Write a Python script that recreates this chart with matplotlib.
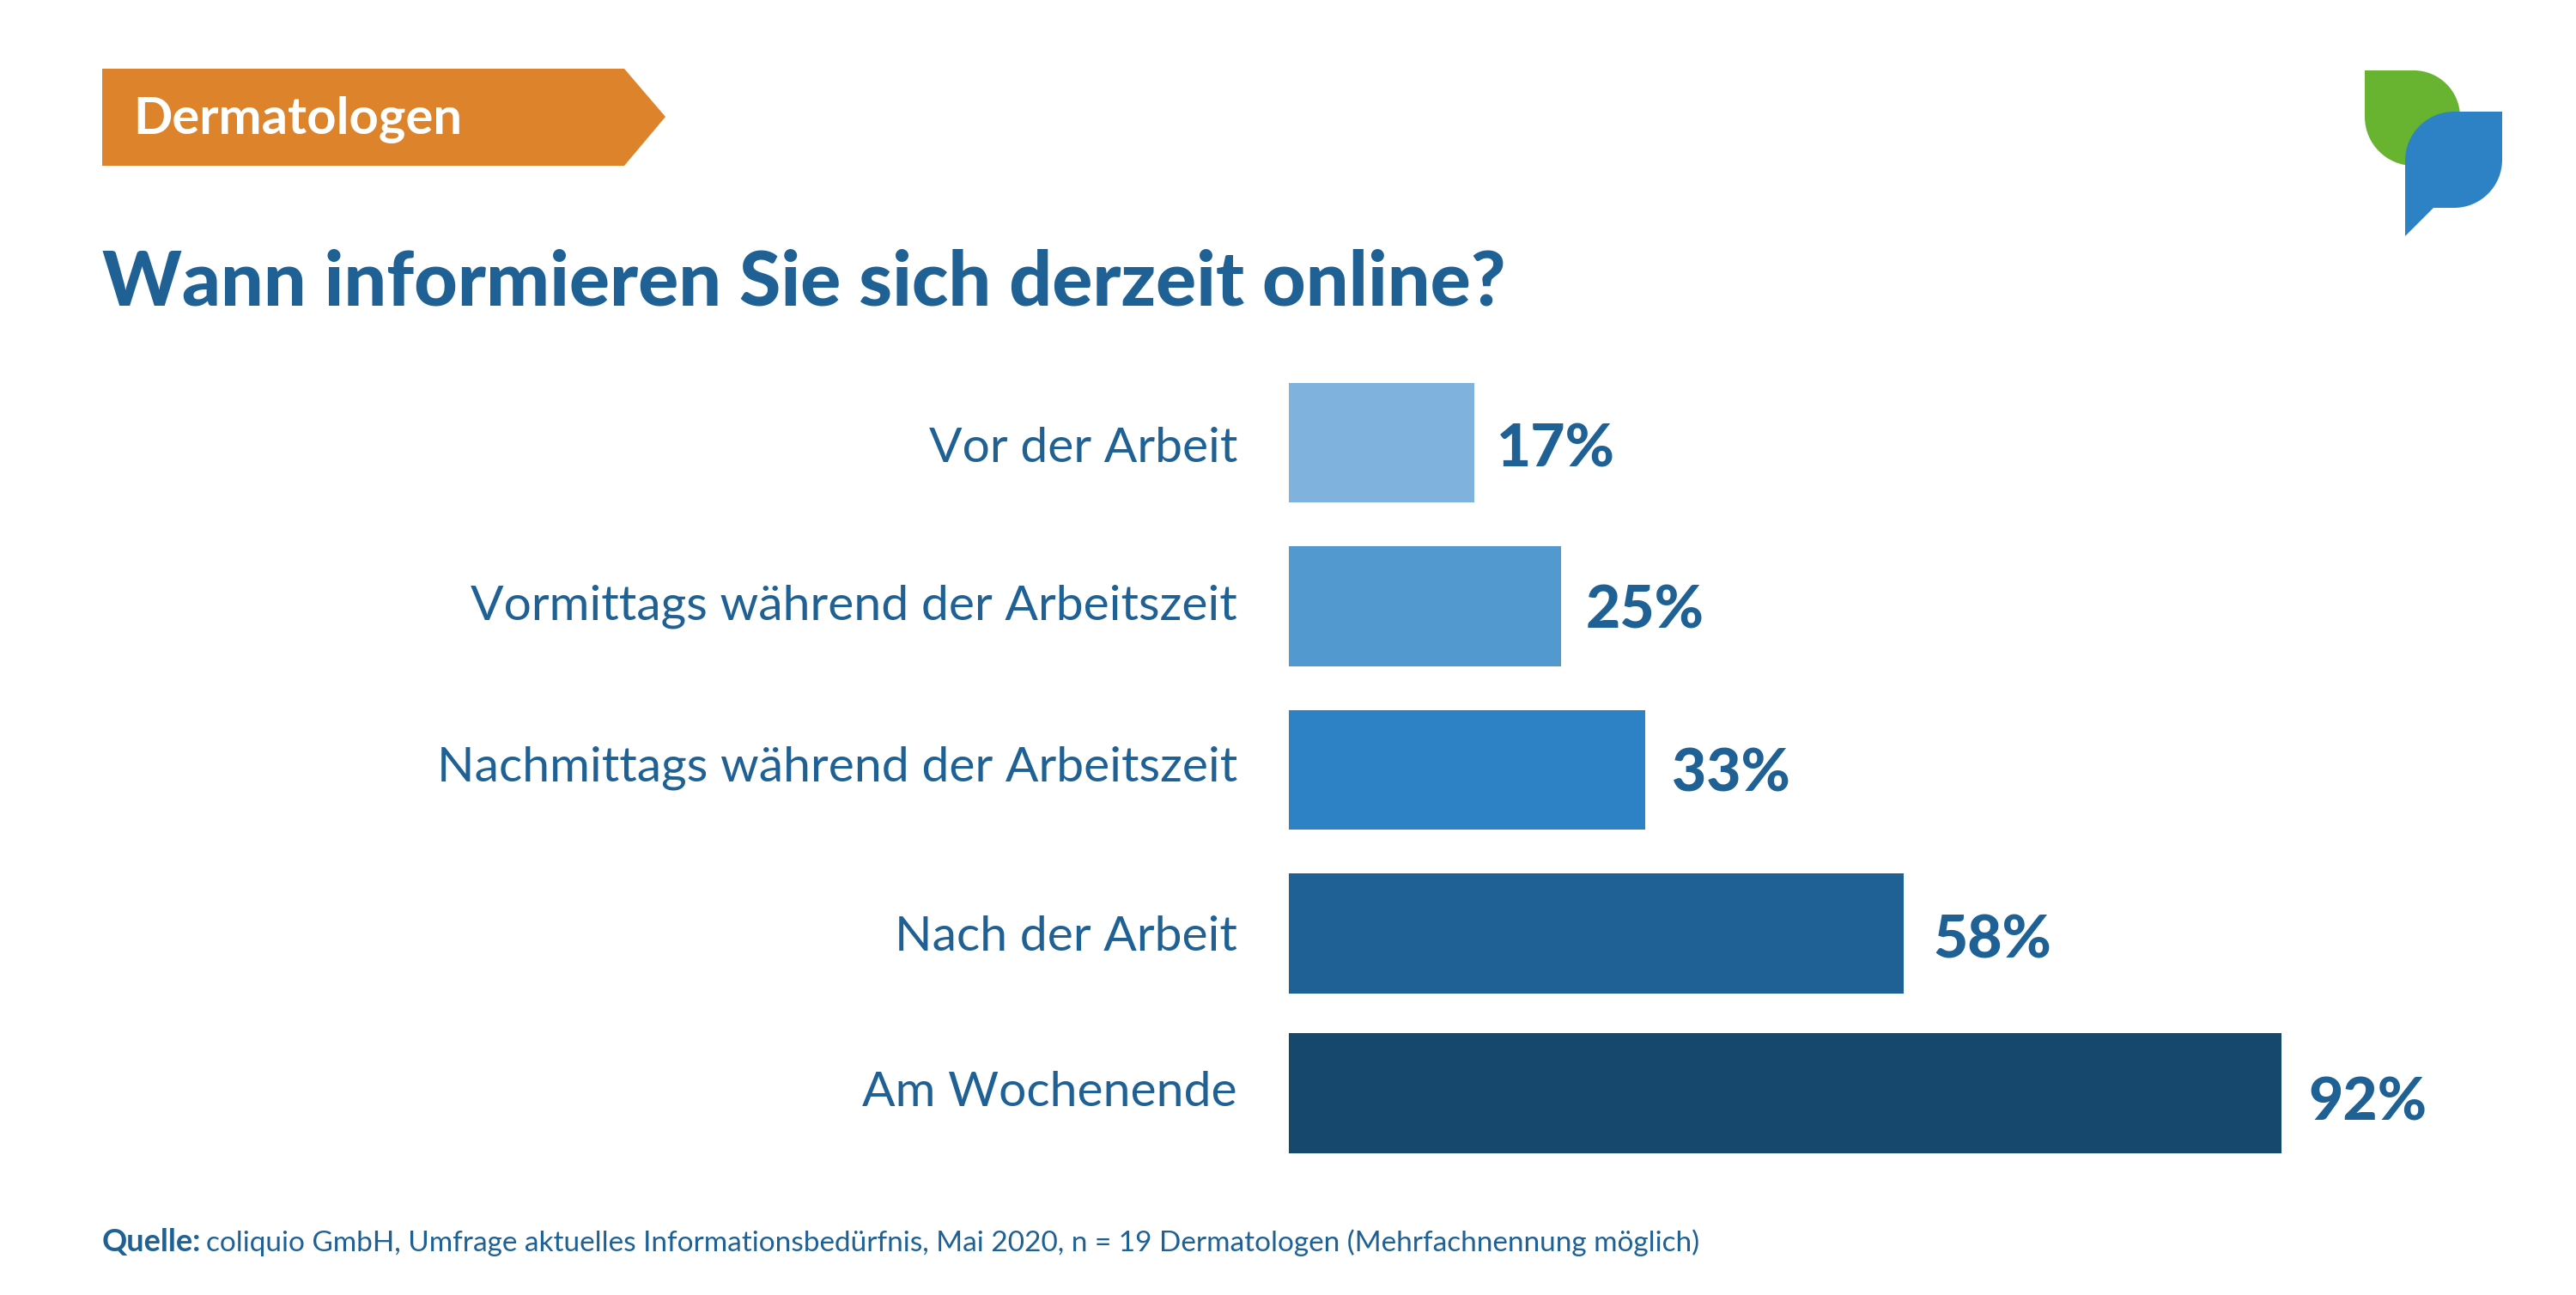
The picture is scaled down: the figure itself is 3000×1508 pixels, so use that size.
import matplotlib
matplotlib.use("Agg")
import matplotlib.pyplot as plt
from matplotlib.patches import Polygon, PathPatch
from matplotlib.path import Path

categories = ["Vor der Arbeit", "Vormittags während der Arbeitszeit",
              "Nachmittags während der Arbeitszeit", "Nach der Arbeit", "Am Wochenende"]
bar_lengths = [17.2, 25.2, 33, 57, 92]
value_labels = ["17%", "25%", "33%", "58%", "92%"]
bar_colors = ["#7FB3DD", "#5299D0", "#2C82C5", "#1F6194", "#16486E"]
badge_text = "Dermatologen"
title_text = "Wann informieren Sie sich derzeit online?"
source_bold = "Quelle:"
source_text = "coliquio GmbH, Umfrage aktuelles Informationsbedürfnis, Mai 2020, n = 19 Dermatologen (Mehrfachnennung möglich)"

W, H = 3000, 1508
TEXT = "#1F6194"
FONT = "Lato"
plt.rcParams["font.family"] = [FONT, "DejaVu Sans"]

fig = plt.figure(figsize=(W / 100, H / 100), dpi=100, facecolor="white")

# overlay in pixel coordinates for page furniture
page = fig.add_axes([0, 0, 1, 1])
page.set_xlim(0, W)
page.set_ylim(H, 0)
page.axis("off")

# chart axes
left, right, top, bottom = 1501, 2657, 400, 1400
ax = fig.add_axes([left / W, 1 - bottom / H, (right - left) / W, (bottom - top) / H])
ax.patch.set_alpha(0)
ax.set_xlim(0, 92)
first, step = 515.5, 190.5
ax.set_ylim((bottom - first) / step, (top - first) / step)
ax.axis("off")

y_slots = [0, 1, 2, 3, 3.976]
ax.barh(y_slots, bar_lengths, height=0.732, color=bar_colors, linewidth=0)

label_dy = [-23, -15.5, -13, -20, -15]     # baseline shift, px
value_dx = [26, 29, 31, 34, 31]
value_dy = [-28, -25, -25, -29, -32]
for y, cat, val, lab, ldy, dx, vdy in zip(y_slots, categories, bar_lengths, value_labels,
                                          label_dy, value_dx, value_dy):
    ax.annotate(cat, xy=(0, y), xytext=(-60 * 0.72, ldy * 0.72), textcoords="offset points",
                ha="right", va="baseline", fontsize=41, color=TEXT)
    ax.annotate(lab, xy=(val, y), xytext=(dx * 0.72, vdy * 0.72), textcoords="offset points",
                ha="left", va="baseline", fontsize=50, fontweight=900, color=TEXT)

# badge
page.add_patch(Polygon([(119, 80), (727, 80), (775, 136), (727, 193), (119, 193)],
                       closed=True, facecolor="#DD832B", edgecolor="none"))
page.text(155, 156, badge_text, color="white", fontsize=43, fontweight="bold", ha="left", va="baseline")

# title
page.text(119, 356, title_text, color=TEXT, fontsize=63.3, fontweight=900, ha="left", va="baseline")

# source
page.text(119, 1457, source_bold, color=TEXT, fontsize=26, fontweight="bold", ha="left", va="baseline")
page.text(240, 1457, source_text, color=TEXT, fontsize=24, ha="left", va="baseline")

# logo
C = Path.CURVE4
L = Path.LINETO
M = Path.MOVETO
k = 0.5523
g_verts = [(2754, 82), (2811, 82),
           (2811 + 54 * k, 82), (2865, 136 - 54 * k), (2865, 136),
           (2865, 193), (2811, 193),
           (2811 - 57 * k, 193), (2754, 136 + 57 * k), (2754, 136),
           (2754, 82)]
g_codes = [M, L, C, C, C, L, L, C, C, C, L]
page.add_patch(PathPatch(Path(g_verts, g_codes), facecolor="#68B32F", edgecolor="none"))
b_verts = [(2914, 130), (2914, 186),
           (2914, 186 + 56 * k), (2858 + 56 * k, 242), (2858, 242),
           (2834, 242), (2801, 275), (2801, 187),
           (2801, 187 - 57 * k), (2858 - 57 * k, 130), (2858, 130),
           (2914, 130)]
b_codes = [M, L, C, C, C, L, L, L, C, C, C, L]
page.add_patch(PathPatch(Path(b_verts, b_codes), facecolor="#2C82C5", edgecolor="none"))

fig.savefig("out.png", dpi=100, facecolor="white")
